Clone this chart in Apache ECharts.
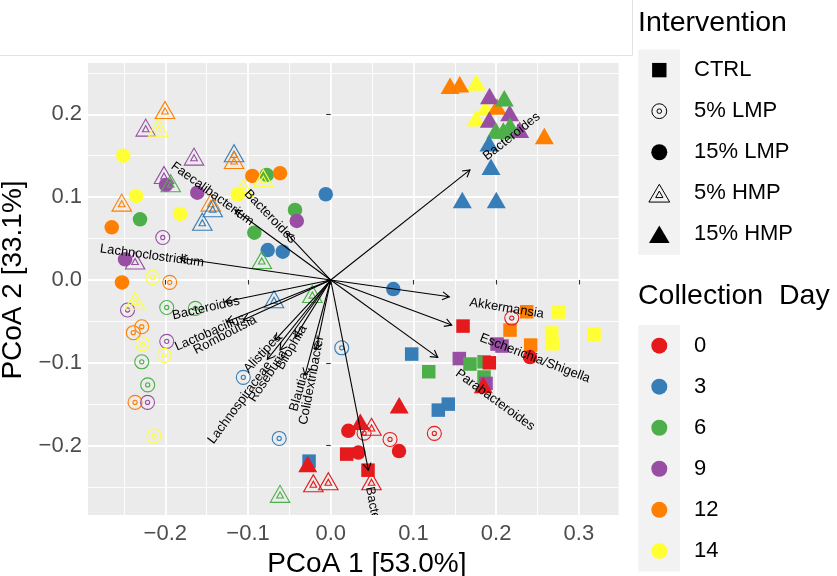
<!DOCTYPE html>
<html>
<head>
<meta charset="utf-8">
<script src="https://cdn.jsdelivr.net/npm/echarts@6/dist/echarts.min.js"></script>
<style>html,body{margin:0;padding:0;background:#fff}#chart{width:837px;height:576px}</style>
</head>
<body>
<div id="chart"></div>
<script>
// ---------------- data ----------------
const dayLevels = [0, 3, 6, 9, 12, 14];
const dayColors = ['#E41A1C', '#377EB8', '#4DAF4A', '#984EA3', '#FF7F00', '#FFFF33'];
const interventions = ['CTRL', '5% LMP', '15% LMP', '5% HMP', '15% HMP'];

// [PCoA1, PCoA2, collection day]
const ctrlPoints = [
  [-0.0262,-0.2186,3],[0.0193,-0.2101,0],[0.0451,-0.2295,0],[0.160,-0.0556,0],
  [0.237,-0.0383,12],[0.2168,-0.0604,12],[0.2418,-0.0785,12],
  [0.2755,-0.0386,14],[0.2672,-0.064,14],[0.2684,-0.0769,14],[0.3184,-0.0655,14],
  [0.2011,-0.0773,9],[0.2071,-0.0797,9],[0.0979,-0.0894,3],[0.1555,-0.0948,9],
  [0.1684,-0.1014,6],[0.1854,-0.0987,6],[0.1918,-0.0999,0],[0.1185,-0.1107,6],
  [0.1854,-0.1171,6],[0.1878,-0.1248,9],[0.1301,-0.157,3],[0.1422,-0.1498,3]
];
const lmp5Points = [
  [-0.2031,0.0513,9],[-0.2152,0.003,14],[-0.1947,-0.0028,12],[-0.2457,-0.0362,9],
  [-0.1983,-0.0332,6],[-0.1637,-0.0342,6],[-0.2285,-0.0564,12],[-0.2387,-0.0636,12],
  [-0.2276,-0.0773,14],[-0.1983,-0.074,9],[-0.2013,-0.0909,14],[-0.2285,-0.0987,6],
  [-0.2213,-0.1266,6],[-0.2366,-0.1477,12],[-0.2215,-0.1477,9],[-0.2137,-0.1884,14],
  [0.0133,-0.0818,3],[-0.1057,-0.1175,3],[-0.0623,-0.1912,3],
  [0.2189,-0.0459,0],[0.0403,-0.1848,0],[0.0717,-0.1924,0],[0.1253,-0.1851,0]
];
const lmp15Points = [
  [-0.2508,0.1501,14],[-0.0948,0.1256,12],[-0.0774,0.1268,6],[-0.0613,0.1289,12],
  [-0.1992,0.1147,9],[-0.1613,0.1054,9],[-0.2354,0.1014,14],[-0.1125,0.1035,14],
  [-0.006,0.1035,3],[-0.0432,0.0845,6],[-0.0411,0.0713,9],[-0.2306,0.0733,6],
  [-0.1822,0.0797,14],[-0.2648,0.0636,12],[-0.0924,0.0571,6],[-0.0762,0.0362,3],
  [-0.058,0.0342,3],[-0.2487,0.025,9],[-0.2524,-0.003,12],[0.0757,-0.0109,3],
  [0.241,-0.093,0],[0.0213,-0.182,0],[0.0826,-0.2065,0],[0.0334,-0.2083,0]
];
const hmp5Points = [
  [-0.2004,0.2053,12],[-0.2237,0.1839,9],[-0.2085,0.1839,14],[-0.1653,0.1489,9],
  [-0.1169,0.153,3],[-0.1169,0.1449,12],[-0.0815,0.1228,14],[-0.2016,0.1268,9],
  [-0.1935,0.1168,6],[-0.2527,0.0934,12],[-0.1057,0.1107,14],[-0.1451,0.0934,12],
  [-0.1427,0.0866,3],[-0.1553,0.0704,3],[-0.0834,0.0242,6],[-0.2366,0.0236,9],
  [-0.2366,-0.025,14],[-0.0686,-0.0233,3],[-0.0222,-0.0169,6],
  [-0.021,-0.2452,0],[-0.0029,-0.2428,0],[-0.0613,-0.2581,6],[0.0493,-0.1772,0],[0.0493,-0.2428,0]
];
const hmp15Points = [
  [0.1761,0.2383,14],[0.1872,0.2083,14],[0.1757,0.1953,14],
  [0.1443,0.2343,12],[0.156,0.2364,12],[0.2011,0.2093,12],[0.2583,0.1739,12],
  [0.192,0.2222,9],[0.2164,0.2017,9],[0.1918,0.1936,9],[0.2285,0.1812,9],
  [0.2099,0.2194,6],[0.1996,0.1803,6],[0.2087,0.1803,6],[0.2168,0.1866,6],
  [0.1914,0.1651,3],[0.1938,0.1368,3],[0.1591,0.0966,3],[0.2002,0.0966,3],
  [-0.0278,-0.2222,0],[0.0828,-0.151,0],[0.0358,-0.1711,0],[0.1845,-0.1268,0]
];

// biplot vectors (taxa)
const taxa = ['Bacteroides','Akkermansia','Escherichia/Shigella','Parabacteroides','Bacteroides',
  'Faecalibacterium','Bacteroides','Lachnoclostridium','Bacteroides','Lactobacillus','Romboutsia',
  'Alistipes','Lachnospiraceae','Roseburia','Bilophila','Blautia','Colidextribacter'];
const taxaVecX = [0.1684,0.1434,0.1463,0.1294,0.0455,-0.1157,-0.0532,-0.1822,-0.1278,-0.1258,-0.1057,-0.0674,-0.0767,-0.0613,-0.0432,-0.0311,-0.0178];
const taxaVecY = [0.1329,-0.0202,-0.0543,-0.0934,-0.2295,0.0845,0.0564,0.0262,-0.0262,-0.0504,-0.0483,-0.0725,-0.0958,-0.0845,-0.0692,-0.1147,-0.0845];
const taxaLabelX = [0.2189,0.2128,0.247,0.1987,0.0544,-0.143,-0.0734,-0.2161,-0.1508,-0.146,-0.1278,-0.0825,-0.1097,-0.0758,-0.0472,-0.0383,-0.023];
const taxaLabelY = [0.1731,-0.0342,-0.0946,-0.1449,-0.2904,0.1039,0.0765,0.0292,-0.0342,-0.0634,-0.0664,-0.0885,-0.1479,-0.1159,-0.0815,-0.1349,-0.1208];

// axes
const xLimits = [-0.2935, 0.3481];
const yLimits = [-0.2836, 0.2619];
const xMajorTicks = [-0.2, -0.1, 0, 0.1, 0.2, 0.3];
const xMinorTicks = [-0.25, -0.15, -0.05, 0.05, 0.15, 0.25];
const yMajorTicks = [-0.2, -0.1, 0, 0.1, 0.2];
const yMinorTicks = [-0.25, -0.15, -0.05, 0.05, 0.15, 0.25];
const xTitle = 'PCoA 1 [53.0%]';
const yTitle = 'PCoA 2 [33.1%]';
const legendTitles = ['Intervention', 'Collection  Day'];

// ---------------- styling ----------------
const FONT = "'Liberation Sans', Arial, Helvetica, sans-serif";
const bullseye = 'path://M0,10A10,10 0 1,1 20,10A10,10 0 1,1 0,10ZM7,10A3,3 0 1,1 13,10A3,3 0 1,1 7,10Z';
const openTri = 'path://M10,0L20,17L0,17ZM10,6.5L13.4,12.6L6.6,12.6Z';
const symbolDefs = {
  'CTRL':    {symbol: 'rect', size: 13.5, filled: true},
  '5% LMP':  {symbol: bullseye, size: 14, filled: false},
  '15% LMP': {symbol: 'circle', size: 14.5, filled: true},
  '5% HMP':  {symbol: openTri, size: [19.5, 17], filled: false},
  '15% HMP': {symbol: 'triangle', size: [19, 16.5], filled: true}
};
const pointSets = [ctrlPoints, lmp5Points, lmp15Points, hmp5Points, hmp15Points];
const dayColor = d => dayColors[dayLevels.indexOf(d)];
const fmt = v => (v < -1e-9 ? '\u2212' : '') + Math.abs(v).toFixed(1);

const scatterSeries = interventions.map((name, k) => {
  const def = symbolDefs[name];
  return {
    name, type: 'scatter', symbol: def.symbol, symbolSize: def.size, z: 3, silent: true,
    emphasis: {disabled: true},
    data: pointSets[k].map(p => ({
      value: [p[0], p[1]],
      itemStyle: def.filled
        ? {color: dayColor(p[2]), opacity: 1}
        : {color: 'rgba(0,0,0,0)', borderColor: dayColor(p[2]), borderWidth: 1.1, opacity: 1}
    }))
  };
});

const arrowSeries = {
  type: 'custom', coordinateSystem: 'cartesian2d', clip: true, silent: true, z: 5,
  data: taxa.map((t, i) => [taxaVecX[i], taxaVecY[i], taxaLabelX[i], taxaLabelY[i]]),
  encode: {x: [0, 2], y: [1, 3]},
  renderItem(params, api) {
    const o = api.coord([0, 0]);
    const t = api.coord([api.value(0), api.value(1)]);
    const l = api.coord([api.value(2), api.value(3)]);
    const a = Math.atan2(t[1] - o[1], t[0] - o[0]);
    const L = 8, w = Math.PI / 6;
    const p1 = [t[0] - L * Math.cos(a - w), t[1] - L * Math.sin(a - w)];
    const p2 = [t[0] - L * Math.cos(a + w), t[1] - L * Math.sin(a + w)];
    const dx = l[0] - o[0], dy = l[1] - o[1];
    const rot = Math.abs(dx) < 1e-6 ? Math.PI / 2 : Math.atan(-dy / dx);
    return {
      type: 'group',
      children: [
        {type: 'line', shape: {x1: o[0], y1: o[1], x2: t[0], y2: t[1]}, style: {stroke: '#000', lineWidth: 1.1}},
        {type: 'polyline', shape: {points: [p1, t, p2]}, style: {stroke: '#000', fill: null, lineWidth: 1.1}},
        {type: 'text', x: l[0], y: l[1], rotation: rot,
          style: {text: taxa[params.dataIndex], fontSize: 13, fontFamily: FONT, fill: '#000',
            align: 'center', verticalAlign: 'middle'}}
      ]
    };
  }
};

// ---------------- legend (drawn as graphics) ----------------
const keyX = 638.3, keyW = 41.7, symX = 659.3, labX = 694;
const intTop = 49.6, dayTop = 325.1, rowH = 41.05;
const graphics = [
  {type: 'line', shape: {x1: 0, y1: 55.5, x2: 632.5, y2: 55.5}, style: {stroke: '#E2E2E2', lineWidth: 1}},
  {type: 'line', shape: {x1: 632.5, y1: 0, x2: 632.5, y2: 55.5}, style: {stroke: '#E2E2E2', lineWidth: 1}},
  {type: 'text', x: 638, y: 23, style: {text: legendTitles[0], fontSize: 28.5, fontFamily: FONT, fill: '#000', verticalAlign: 'middle'}},
  {type: 'rect', shape: {x: keyX, y: intTop, width: keyW, height: rowH * interventions.length}, style: {fill: '#F2F2F2'}},
  {type: 'text', x: 638, y: 296, style: {text: legendTitles[1], fontSize: 28.5, fontFamily: FONT, fill: '#000', verticalAlign: 'middle'}},
  {type: 'rect', shape: {x: keyX, y: dayTop, width: keyW, height: rowH * dayLevels.length}, style: {fill: '#F2F2F2'}}
];
function interventionIcon(name, cx, cy) {
  const k = '#000';
  if (name === 'CTRL') return [{type: 'rect', shape: {x: cx - 7.2, y: cy - 7.2, width: 14.4, height: 14.4}, style: {fill: k}}];
  if (name === '5% LMP') return [
    {type: 'circle', shape: {cx, cy, r: 7.4}, style: {fill: null, stroke: k, lineWidth: 1}},
    {type: 'circle', shape: {cx, cy, r: 2.3}, style: {fill: null, stroke: k, lineWidth: 1}}];
  if (name === '15% LMP') return [{type: 'circle', shape: {cx, cy, r: 8}, style: {fill: k}}];
  if (name === '5% HMP') return [
    {type: 'polygon', shape: {points: [[cx, cy - 9], [cx + 10.4, cy + 8.8], [cx - 10.4, cy + 8.8]]}, style: {fill: null, stroke: k, lineWidth: 1}},
    {type: 'polygon', shape: {points: [[cx, cy - 2.2], [cx + 3.6, cy + 4.3], [cx - 3.6, cy + 4.3]]}, style: {fill: null, stroke: k, lineWidth: 1}}];
  return [{type: 'polygon', shape: {points: [[cx, cy - 8.8], [cx + 10.3, cy + 8.7], [cx - 10.3, cy + 8.7]]}, style: {fill: k}}];
}
interventions.forEach((name, i) => {
  const cy = intTop + rowH * (i + 0.5);
  interventionIcon(name, symX, cy).forEach(e => graphics.push(e));
  graphics.push({type: 'text', x: labX, y: cy, style: {text: name, fontSize: 22, fontFamily: FONT, fill: '#000', verticalAlign: 'middle'}});
});
dayLevels.forEach((d, i) => {
  const cy = dayTop + rowH * (i + 0.5);
  graphics.push({type: 'circle', shape: {cx: symX, cy, r: 8}, style: {fill: dayColors[i]}});
  graphics.push({type: 'text', x: labX, y: cy, style: {text: String(d), fontSize: 22, fontFamily: FONT, fill: '#000', verticalAlign: 'middle'}});
});
graphics.forEach(g => { g.silent = true; });

// ---------------- chart ----------------
const chart = echarts.init(document.getElementById('chart'), null, {renderer: 'canvas'});
const minorAxis = (lim, ticks) => ({
  type: 'value', min: lim[0], max: lim[1], show: true,
  axisLine: {show: false}, axisLabel: {show: false},
  axisTick: {show: false, customValues: ticks},
  splitLine: {show: true, lineStyle: {color: '#FFFFFF', width: 0.9}}
});
chart.setOption({
  animation: false,
  backgroundColor: '#FFFFFF',
  textStyle: {fontFamily: FONT},
  grid: {left: 88, right: 218.4, top: 63, bottom: 61, show: true, backgroundColor: '#EBEBEB', borderWidth: 0, outerBoundsMode: 'none'},
  xAxis: [{
    type: 'value', min: xLimits[0], max: xLimits[1],
    name: xTitle, nameLocation: 'middle', nameGap: 33,
    nameTextStyle: {fontSize: 28, color: '#000', fontFamily: FONT, padding: [0, 0, 0, 27]},
    axisLine: {show: false},
    axisTick: {show: true, customValues: xMajorTicks, length: 4.5, lineStyle: {color: '#333333', width: 1.1}},
    axisLabel: {customValues: xMajorTicks, formatter: fmt, fontSize: 22, color: '#4D4D4D', margin: 8, fontFamily: FONT},
    splitLine: {show: true, lineStyle: {color: '#FFFFFF', width: 1.8}}
  }, minorAxis(xLimits, xMinorTicks)],
  yAxis: [{
    type: 'value', min: yLimits[0], max: yLimits[1],
    name: yTitle, nameLocation: 'middle', nameGap: 49, nameRotate: 90,
    nameTextStyle: {fontSize: 28, color: '#000', fontFamily: FONT, padding: [0, 0, 0, 18]},
    axisLine: {show: false},
    axisTick: {show: true, customValues: yMajorTicks, length: 4.5, lineStyle: {color: '#333333', width: 1.1}},
    axisLabel: {customValues: yMajorTicks, formatter: fmt, fontSize: 22, color: '#4D4D4D', margin: 6, fontFamily: FONT},
    splitLine: {show: true, lineStyle: {color: '#FFFFFF', width: 1.8}}
  }, minorAxis(yLimits, yMinorTicks)],
  series: [...scatterSeries, arrowSeries],
  graphic: graphics
});
</script>
</body>
</html>
